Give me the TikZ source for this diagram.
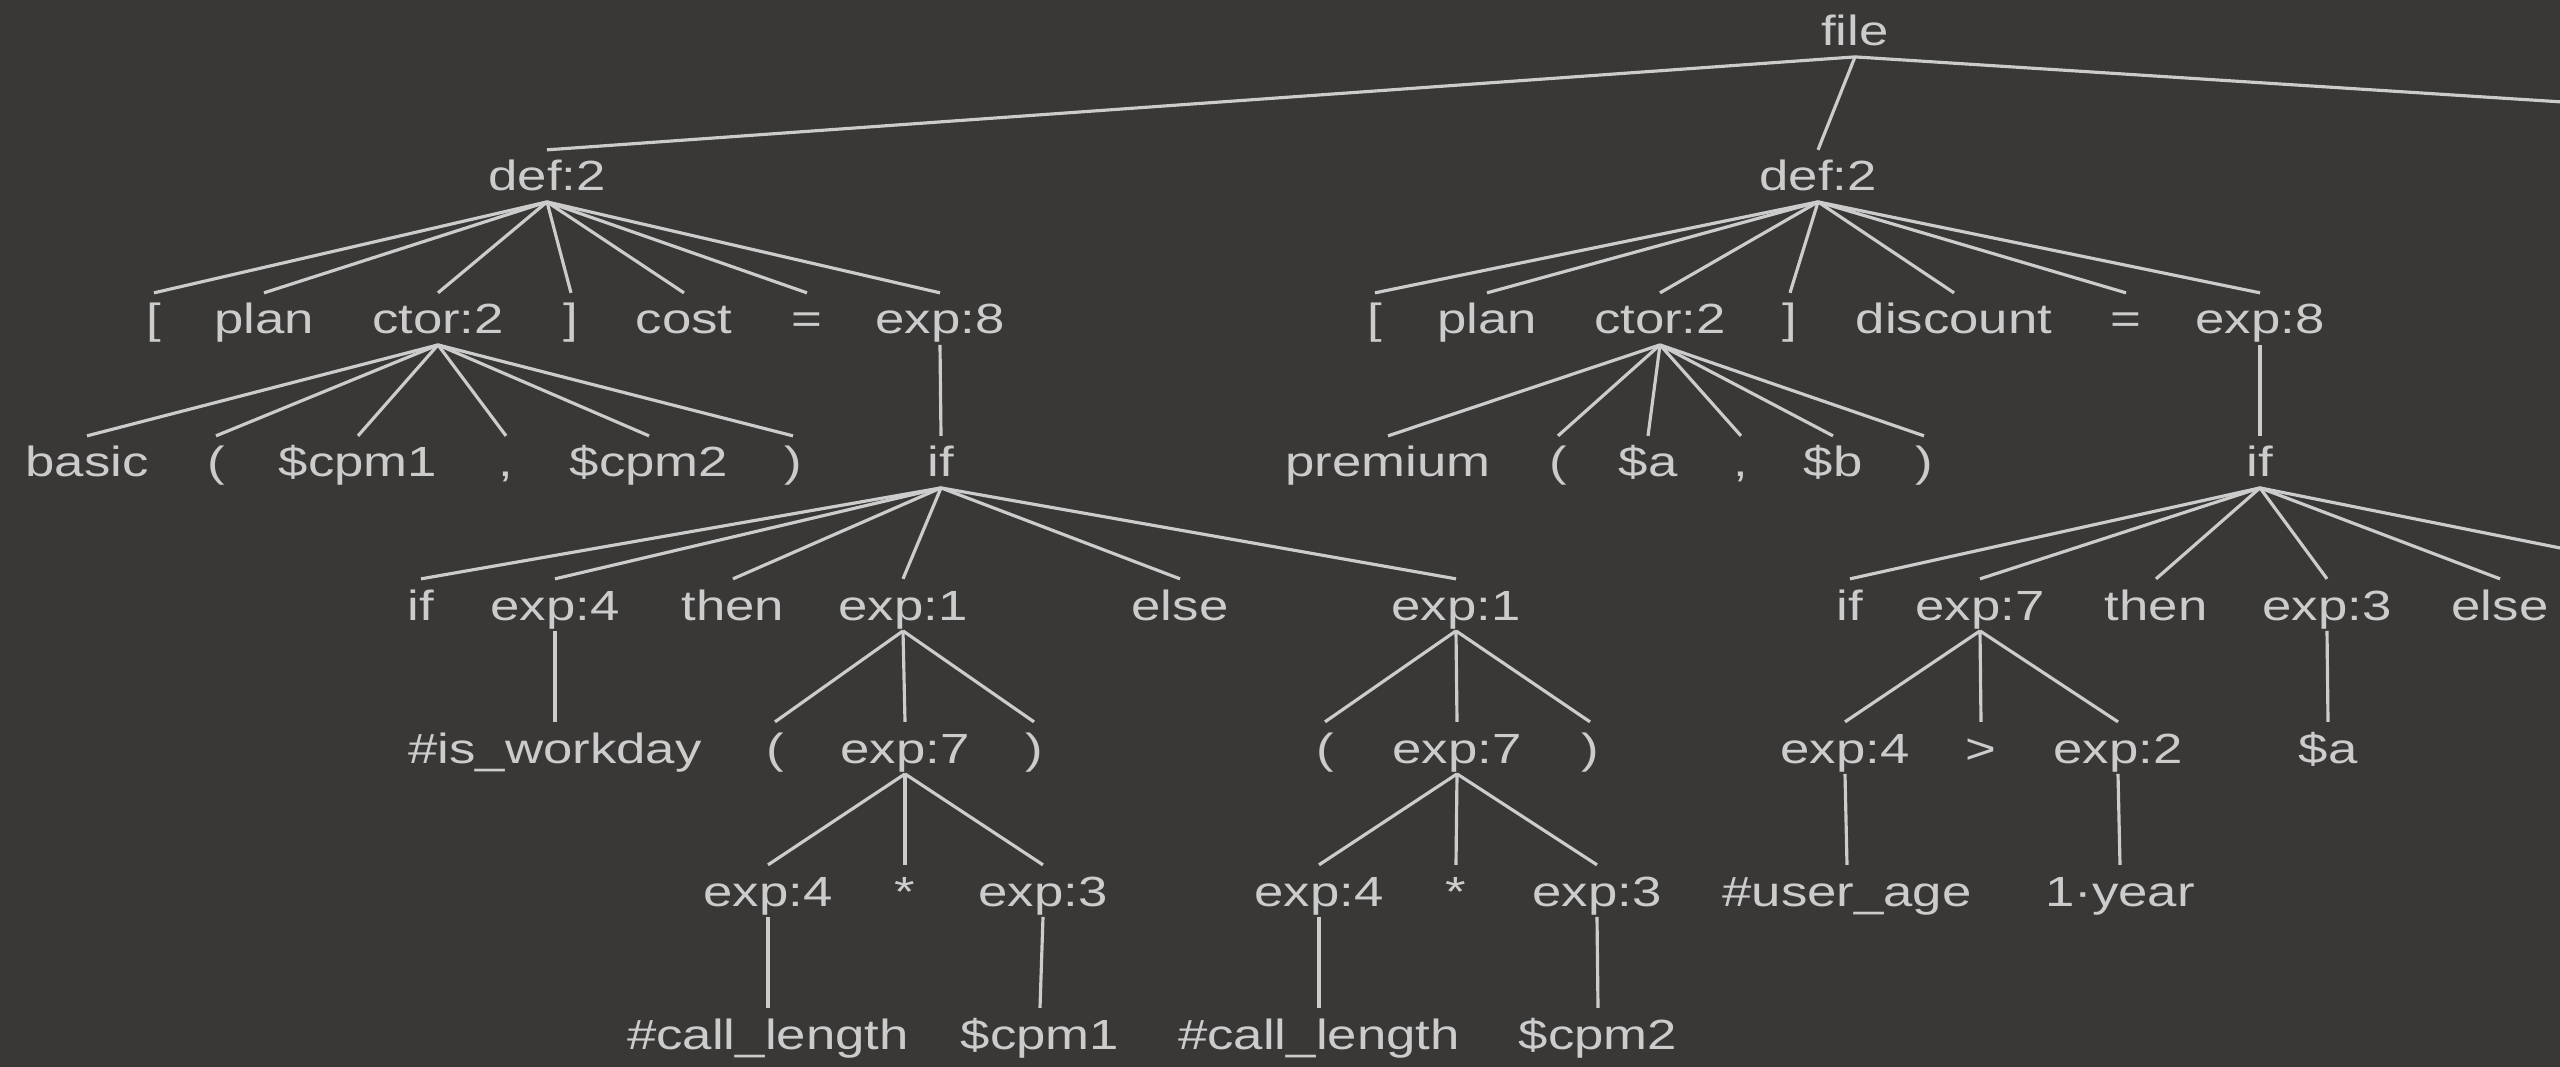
\documentclass[tikz,border=0pt]{standalone}
\usepackage{fontspec}
\setmainfont[FakeStretch=1.25]{Liberation Sans}
\definecolor{bgcol}{RGB}{57,56,55}
\definecolor{inkcol}{RGB}{204,204,204}
\begin{document}
\begin{tikzpicture}[x=0.01cm, y=-0.01cm,
    tok/.style={anchor=base, inner sep=0pt, outer sep=0pt, text height=11.7pt, text depth=3.1pt,
        text=inkcol, font=\fontsize{12}{14}\selectfont},
    edge/.style={draw=inkcol, line width=0.9pt}]
    \useasboundingbox (0,0) rectangle (2560,1067);
    \fill[bgcol] (0,0) rectangle (2560,1067);
    \clip (0,0) rectangle (2560,1067);

    % level 0 and 1
    \node[tok] (file) at (1855,46) {file};
    \node[tok] (defA) at (547,191) {def:2};
    \node[tok] (defB) at (1818,191) {def:2};
    \coordinate (defC) at (3316,150);

    % level 2
    \node[tok] (lbA) at (154,334) {[};
    \node[tok] (planA) at (264,334) {plan};
    \node[tok] (ctorA) at (438,334) {ctor:2};
    \node[tok] (rbA) at (571,334) {]};
    \node[tok] (cost) at (684,334) {cost};
    \node[tok] (eqA) at (807,334) {=};
    \node[tok] (expA) at (940,334) {exp:8};
    \node[tok] (lbB) at (1375,334) {[};
    \node[tok] (planB) at (1487,334) {plan};
    \node[tok] (ctorB) at (1660,334) {ctor:2};
    \node[tok] (rbB) at (1790,334) {]};
    \node[tok] (disc) at (1954,334) {discount};
    \node[tok] (eqB) at (2126,334) {=};
    \node[tok] (expB) at (2260,334) {exp:8};

    % level 3
    \node[tok] (basic) at (87,477) {basic};
    \node[tok] (lpA) at (216,477) {(};
    \node[tok] (cpmA) at (358,477) {\$cpm1};
    \node[tok] (coA) at (506,477) {,};
    \node[tok] (cpmB) at (649,477) {\$cpm2};
    \node[tok] (rpA) at (793,477) {)};
    \node[tok] (ifA) at (941,477) {if};
    \node[tok] (prem) at (1388,477) {premium};
    \node[tok] (lpB) at (1558,477) {(};
    \node[tok] (va) at (1648,477) {\$a};
    \node[tok] (coB) at (1741,477) {,};
    \node[tok] (vb) at (1833,477) {\$b};
    \node[tok] (rpB) at (1924,477) {)};
    \node[tok] (ifB) at (2260,477) {if};

    % level 4
    \node[tok] (kifA) at (421,620) {if};
    \node[tok] (e4A) at (555,620) {exp:4};
    \node[tok] (thenA) at (733,620) {then};
    \node[tok] (e1A) at (903,620) {exp:1};
    \node[tok] (elseA) at (1180,620) {else};
    \node[tok] (e1B) at (1456,620) {exp:1};
    \node[tok] (kifB) at (1850,620) {if};
    \node[tok] (e7C) at (1980,620) {exp:7};
    \node[tok] (thenB) at (2156,620) {then};
    \node[tok] (e3C) at (2327,620) {exp:3};
    \node[tok] (elseB) at (2500,620) {else};
    \coordinate (nextB) at (2715,579);

    % level 5
    \node[tok] (work) at (555,763) {\#is\_workday};
    \node[tok] (lpC) at (775,763) {(};
    \node[tok] (e7A) at (905,763) {exp:7};
    \node[tok] (rpC) at (1034,763) {)};
    \node[tok] (lpD) at (1325,763) {(};
    \node[tok] (e7B) at (1457,763) {exp:7};
    \node[tok] (rpD) at (1590,763) {)};
    \node[tok] (e4C) at (1845,763) {exp:4};
    \node[tok] (gt) at (1981,763) {>};
    \node[tok] (e2C) at (2118,763) {exp:2};
    \node[tok] (vaC) at (2328,763) {\$a};

    % level 6
    \node[tok] (e4D) at (768,906) {exp:4};
    \node[tok] (mulA) at (905,906) {*};
    \node[tok] (e3D) at (1043,906) {exp:3};
    \node[tok] (e4E) at (1319,906) {exp:4};
    \node[tok] (mulB) at (1456,906) {*};
    \node[tok] (e3E) at (1597,906) {exp:3};
    \node[tok] (age) at (1847,906) {\#user\_age};
    \node[tok] (year) at (2120,906) {1·year};

    % level 7
    \node[tok] (callA) at (768,1049) {\#call\_length};
    \node[tok] (cpmC) at (1040,1049) {\$cpm1};
    \node[tok] (callB) at (1319,1049) {\#call\_length};
    \node[tok] (cpmD) at (1598,1049) {\$cpm2};

    % edges
    \foreach \c in {defA,defB}
        \draw[edge] (file.south) -- (\c.north);
    \draw[edge] (file.south) -- (defC);
    \foreach \c in {lbA,planA,ctorA,rbA,cost,eqA,expA}
        \draw[edge] (defA.south) -- (\c.north);
    \foreach \c in {lbB,planB,ctorB,rbB,disc,eqB,expB}
        \draw[edge] (defB.south) -- (\c.north);
    \foreach \c in {basic,lpA,cpmA,coA,cpmB,rpA}
        \draw[edge] (ctorA.south) -- (\c.north);
    \foreach \c in {prem,lpB,va,coB,vb,rpB}
        \draw[edge] (ctorB.south) -- (\c.north);
    \draw[edge] (expA.south) -- (ifA.north);
    \draw[edge] (expB.south) -- (ifB.north);
    \foreach \c in {kifA,e4A,thenA,e1A,elseA,e1B}
        \draw[edge] (ifA.south) -- (\c.north);
    \foreach \c in {kifB,e7C,thenB,e3C,elseB}
        \draw[edge] (ifB.south) -- (\c.north);
    \draw[edge] (ifB.south) -- (nextB);
    \draw[edge] (e4A.south) -- (work.north);
    \foreach \c in {lpC,e7A,rpC}
        \draw[edge] (e1A.south) -- (\c.north);
    \foreach \c in {lpD,e7B,rpD}
        \draw[edge] (e1B.south) -- (\c.north);
    \foreach \c in {e4C,gt,e2C}
        \draw[edge] (e7C.south) -- (\c.north);
    \draw[edge] (e3C.south) -- (vaC.north);
    \foreach \c in {e4D,mulA,e3D}
        \draw[edge] (e7A.south) -- (\c.north);
    \foreach \c in {e4E,mulB,e3E}
        \draw[edge] (e7B.south) -- (\c.north);
    \draw[edge] (e4C.south) -- (age.north);
    \draw[edge] (e2C.south) -- (year.north);
    \draw[edge] (e4D.south) -- (callA.north);
    \draw[edge] (e3D.south) -- (cpmC.north);
    \draw[edge] (e4E.south) -- (callB.north);
    \draw[edge] (e3E.south) -- (cpmD.north);
\end{tikzpicture}
\end{document}
